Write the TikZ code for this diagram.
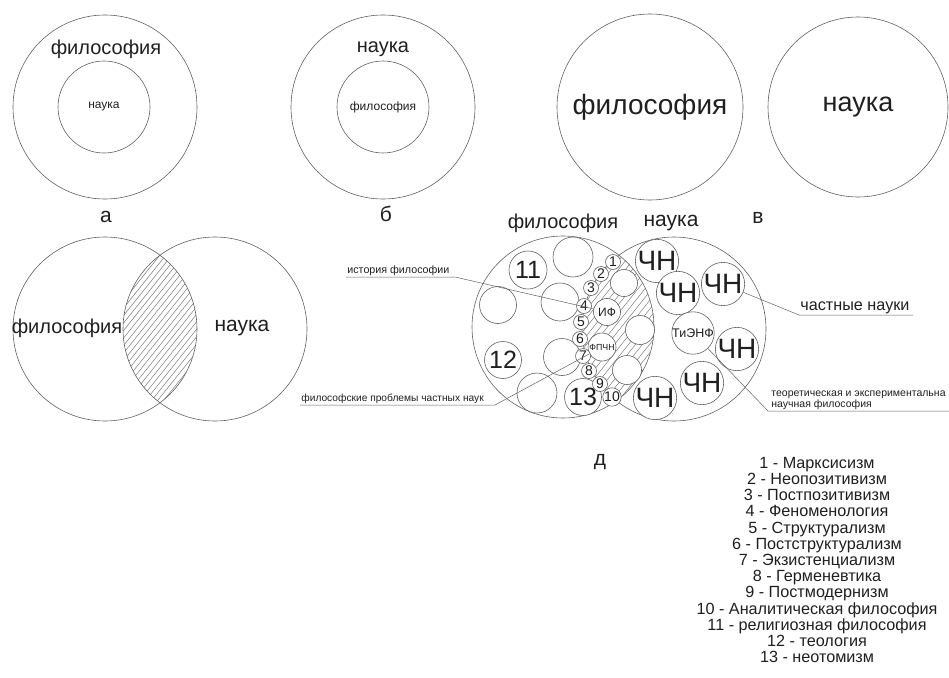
\documentclass[tikz,border=0pt]{standalone}
\usepackage{fontspec}
\setmainfont{Liberation Sans}
\newcommand\fsz[1]{\fontsize{#1}{#1}\selectfont}
\definecolor{linec}{gray}{0.38}
\definecolor{txt}{gray}{0.12}
\begin{document}
\begin{tikzpicture}[x=1pt,y=-1pt,
  every node/.style={text=txt},
  big/.style={circle,draw=linec,line width=0.6pt,inner sep=0pt,minimum size=#1},
  sm/.style={circle,draw=linec,line width=0.6pt,fill=white,inner sep=0pt,minimum size=#1},
  hatch/.style={draw=linec,line width=0.4pt},
  lead/.style={draw=linec,line width=0.5pt},
  lbl/.style={font=\fsz{10.2},inner sep=1.2pt}]
\useasboundingbox (0,0) rectangle (949,677);
% ---------- a ----------
\node[big=184pt] (aO) at (105,107) {};
\node[big=92pt,font=\fsz{12}] (aI) at (104,107) {наука};
\node[font=\fsz{20}] (aT) at (106,49) {философия};
\node[font=\fsz{21}] (aL) at (106,217) {а};
% ---------- б ----------
\node[big=184pt] (bO) at (383,107) {};
\node[big=92pt,font=\fsz{12}] (bI) at (383,107) {философия};
\node[font=\fsz{20}] (bT) at (383,49) {наука};
\node[font=\fsz{21}] (bL) at (386,214) {б};
% ---------- в ----------
\node[big=186pt,font=\fsz{28}] (v1) at (650,107) {философия};
\node[big=180pt,font=\fsz{27}] (v2) at (858,107) {наука};
\node[font=\fsz{21}] (vL) at (758,218) {в};
% ---------- г (Venn) ----------
\begin{scope}
  \clip (105,329) circle (92pt);
  \clip (215,329) circle (92pt);
  \foreach \k in {-60,-54,...,200} \draw[hatch] (\k,425) -- (\k+176,205);
\end{scope}
\node[big=184pt] (gL) at (105,329) {};
\node[big=184pt] (gR) at (215,329) {};
\node[font=\fsz{20}] (gT1) at (67,328) {философия};
\node[font=\fsz{21}] (gT2) at (242,328) {наука};
% ---------- д ----------
\begin{scope}
  \clip (563,327) circle (91pt);
  \clip (674,329) circle (92pt);
  \foreach \k in {410,417,...,660} \draw[hatch] (\k,425) -- (\k+176,205);
\end{scope}
\node[big=182pt] (dL) at (563,327) {};
\node[big=184pt] (dR) at (674,329) {};
\node[font=\fsz{20}] (dT1) at (563,223) {философия};
\node[font=\fsz{21}] (dT2) at (671,223) {наука};
\node[font=\fsz{21}] (dL2) at (600,462) {д};
% left small circles
\node[sm=38pt,font=\fsz{25}] (c11) at (528,270) {11};
\node[sm=40pt] (e1) at (573,257) {};
\node[sm=37pt] (e2) at (498,305) {};
\node[sm=38pt] (e3) at (560,302) {};
\node[sm=37pt,font=\fsz{25}] (c12) at (503,360) {12};
\node[sm=37pt] (e4) at (562,357) {};
\node[sm=40pt] (e5) at (537,393) {};
\node[sm=37pt,font=\fsz{25}] (c13) at (583,397) {13};
% lens circles
\node[sm=27pt] (l1) at (624,283) {};
\node[sm=29pt] (l2) at (640,330) {};
\node[sm=29pt] (l3) at (627,370) {};
\node[sm=27pt,font=\fsz{12}] (if) at (607,312) {ИФ};
\node[sm=28pt,font=\fsz{8.8}] (fp) at (602,347) {ФПЧН};
% numbered circles
\foreach \i/\x/\y in {1/613/262,2/601/274,3/591/288,4/584/306,5/581/322,6/580/339,7/583/356,8/589/371,9/600/384,10/612/397}
  \node[sm=15pt,font=\fsz{14}] (n\i) at (\x,\y) {\i};
% right circles
\node[sm=38pt,font=\fsz{28}] (ch1) at (657,261) {ЧН};
\node[sm=40pt,font=\fsz{28}] (ch2) at (678,293) {ЧН};
\node[sm=42pt,font=\fsz{28}] (ch3) at (723,284) {ЧН};
\node[sm=42pt,font=\fsz{12.5}] (ti) at (693,333) {ТиЭНФ};
\node[sm=38pt,font=\fsz{28}] (ch4) at (737,349) {ЧН};
\node[sm=38pt,font=\fsz{28}] (ch5) at (702,383) {ЧН};
\node[sm=38pt,font=\fsz{28}] (ch6) at (655,398) {ЧН};
% leader labels
\node[lbl,anchor=south west,font=\fsz{10.7}] (hf) at (346,277) {история философии};
\coordinate (hfe) at (455,277);
\draw[lead] (hf.south west) -- (hfe) -- (if);
\node[lbl,anchor=south west] (fpl) at (300,405) {философские проблемы частных наук};
\coordinate (fpe) at (495,405);
\draw[lead] (fpl.south west) -- (fpe) -- (fp);
\node[anchor=south west,font=\fsz{16.2},inner sep=1.2pt] (cn) at (799,315) {частные науки};
\coordinate (cne) at (913,315);
\draw[lead] (ch3) -- (cn.south west) -- (cne);
\node[lbl,anchor=south west,align=left,font=\fontsize{10.5}{11}\selectfont] (tn) at (770,411) {теоретическая и экспериментальна\\научная философия};
\coordinate (tns) at (768,411);
\coordinate (tne) at (949,411);
\draw[lead] (ti) -- (tns) -- (tne);
% legend
\node[align=center,font=\fontsize{16.2}{16.2}\selectfont,inner sep=0pt] (leg) at (817,560)
 {1 - Марксисизм\\2 - Неопозитивизм\\3 - Постпозитивизм\\4 - Феноменология\\5 - Структурализм\\6 - Постструктурализм\\7 - Экзистенциализм\\8 - Герменевтика\\9 - Постмодернизм\\10 - Аналитическая философия\\11 - религиозная философия\\12 - теология\\13 - неотомизм};
\end{tikzpicture}
\end{document}
